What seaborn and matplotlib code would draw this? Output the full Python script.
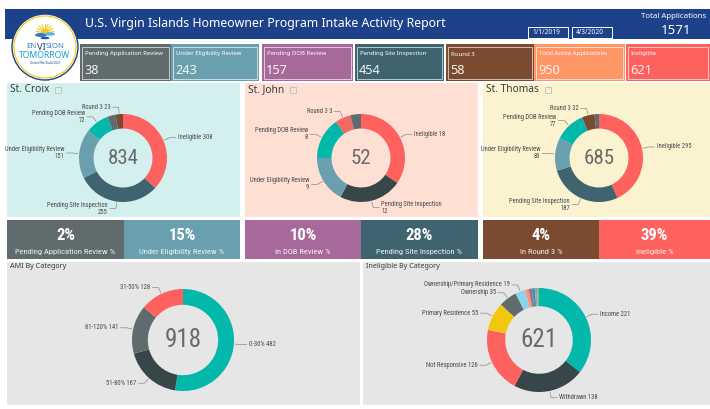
import numpy as np
import matplotlib
matplotlib.use("Agg")
import matplotlib.pyplot as plt
import seaborn as sns
from matplotlib import font_manager
from matplotlib.font_manager import FontProperties
from matplotlib.patches import Rectangle, Circle, Wedge, Ellipse

# ---------------- data ----------------
title = "U.S. Virgin Islands Homeowner Program Intake Activity Report"
date_from = "1/1/2019"
date_to = "4/3/2020"
total_label = "Total Applications"
total_applications = 1571

kpi_labels = ["Pending Application Review", "Under Eligibility Review", "Pending DOB Review",
              "Pending Site Inspection", "Round 3", "Total Active Applications", "Ineligible"]
kpi_values = [38, 243, 157, 454, 58, 950, 621]

island_names = ["St. Croix", "St. John", "St. Thomas"]
island_categories = ["Ineligible", "Pending Site Inspection", "Under Eligibility Review",
                     "Pending DOB Review", "Pending Application Review", "Round 3"]
st_croix_values = [308, 255, 151, 72, 25, 23]
st_john_values = [18, 12, 9, 8, 2, 3]
st_thomas_values = [295, 187, 83, 77, 11, 32]

pct_labels = ["Pending Application Review %", "Under Eligibility Review %", "In DOB Review %",
              "Pending Site Inspection %", "In Round 3 %", "Ineligible %"]
pct_values = [2, 15, 10, 28, 4, 39]

ami_title = "AMI By Category"
ami_categories = ["0-30%", "51-80%", "81-120%", "31-50%"]
ami_values = [482, 167, 141, 128]

inel_title = "Ineligible By Category"
inel_categories = ["Income", "Withdrawn", "Not Responsive", "Primary Residence", "Ownership",
                   "Ownership/Primary Residence", "", "", "", "", ""]
inel_values = [221, 138, 126, 55, 35, 19, 7, 6, 6, 4, 4]

# ---------------- style ----------------
sns.set_theme(style="white")
ttf = font_manager.fontManager.ttflist
names = {f.name for f in ttf}
UI = "Noto Sans" if "Noto Sans" in names else "DejaVu Sans"
plt.rcParams["font.family"] = [UI, "DejaVu Sans"]


def find_condensed(bold=False):
    prefs = ["Liberation Sans Narrow", "Roboto Condensed", "Noto Sans Condensed", "Open Sans Condensed",
             "DejaVu Sans Condensed", "Noto Sans", "DejaVu Sans"]
    cands = []
    for f in ttf:
        st = str(f.stretch).lower()
        nm = f.name
        is_cond = ("condensed" in st) or ("narrow" in nm.lower()) or ("condensed" in nm.lower()) \
            or ("condensed" in f.fname.lower()) or ("narrow" in f.fname.lower())
        if not is_cond or "semi" in st or "extra" in st or "ultra" in st:
            continue
        if "italic" in f.fname.lower() or f.style != "normal":
            continue
        w = f.weight if isinstance(f.weight, int) else (700 if "bold" in str(f.weight) else 400)
        if bold and w < 600:
            continue
        if not bold and not (350 <= w <= 450):
            continue
        rank = next((i for i, p in enumerate(prefs) if nm.startswith(p)), len(prefs))
        cands.append((rank, f.fname))
    if cands:
        cands.sort()
        return FontProperties(fname=cands[0][1])
    return FontProperties(family=["Roboto", "DejaVu Sans"], weight="bold" if bold else "normal")


FP_N = find_condensed(False)
FP_B = find_condensed(True)

W, H = 710, 409
fig = plt.figure(figsize=(W / 100, H / 100), dpi=100)
ax = fig.add_axes([0, 0, 1, 1])
ax.set_xlim(0, W)
ax.set_ylim(0, H)
ax.set_axis_off()


def Y(y):
    return H - y


def T(x, y, s, fp=None, size=None, **kw):
    kw.setdefault("zorder", 5)
    if fp is not None:
        p = fp.copy()
        p.set_size(size)
        return ax.text(x, Y(y), s, fontproperties=p, **kw)
    return ax.text(x, Y(y), s, fontsize=size, **kw)


def rect(x0, y0, x1, y1, color, z=0):
    ax.add_patch(Rectangle((x0, Y(y1)), x1 - x0, y1 - y0, facecolor=color, edgecolor="none", zorder=z))


def outline(x0, y0, x1, y1, color, lw=0.6, z=3):
    ax.add_patch(Rectangle((x0, Y(y1)), x1 - x0, y1 - y0, facecolor="none", edgecolor=color,
                           linewidth=lw, zorder=z))


# colors
BLUE = "#1D4289"
C_GRAY = "#5F6B6D"
C_UNDER = "#6A9FB0"
C_DOB = "#A66999"
C_SITE = "#3F6470"
C_R3 = "#7A4A31"
C_ORANGE = "#FE9666"
C_RED = "#FD625E"
C_TEAL = "#01B8AA"
C_DARK = "#374649"

# ---------------- header ----------------
rect(5, 9, 710, 39, BLUE, z=1)
T(85, 23, title, size=8.9, color="white", va="center", ha="left")
for (x0, x1, t) in [(528, 568, date_from), (572, 612, date_to)]:
    outline(x0, 27, x1, 38, "white", lw=0.7, z=4)
    T(x0 + 4, 33, t, size=4.8, color="white", va="center", ha="left")
T(641, 16, total_label, size=5.7, color="white", va="center", ha="left")
T(676, 31, f"{total_applications}", size=9.5, color="white", fontweight="bold", va="center", ha="center")

# ---------------- KPI cards ----------------
kpi_colors = [C_GRAY, C_UNDER, C_DOB, C_SITE, C_R3, C_ORANGE, C_RED]
kpi_x = [(80, 171), (171, 259), (262, 353), (355, 444), (446, 534), (534, 625), (626, 710)]
for (x0, x1), c, lab, v in zip(kpi_x, kpi_colors, kpi_labels, kpi_values):
    rect(x0, 44, x1, 81, c, z=1)
    outline(x0 + 2, 47, x1 - 2, 79, (1, 1, 1, 0.75), lw=0.6, z=3)
    T(x0 + 5, 54, lab, size=4.3, color="white", va="center", ha="left")
    T(x0 + 4, 71, f"{v}", size=9.2, color=(1, 1, 1, 0.92), va="center", ha="left")

# ---------------- logo ----------------
LX, LY = 45, 47
ax.add_patch(Circle((LX, Y(LY)), 33, facecolor="white", edgecolor="#1D4289", linewidth=1.0, zorder=6))
ax.add_patch(Circle((LX, Y(LY)), 31, facecolor="none", edgecolor="#F2C80F", linewidth=0.8, zorder=6))
for a in np.linspace(10, 170, 9):
    r = np.deg2rad(a)
    ax.plot([LX + 4 * np.cos(r), LX + 9 * np.cos(r)], [Y(33) + 4 * np.sin(r), Y(33) + 9 * np.sin(r)],
            color="#F5C518", lw=0.8, zorder=7)
ax.add_patch(Wedge((LX, Y(33)), 4, 0, 180, facecolor="#F5C518", edgecolor="none", zorder=7))
ax.add_patch(Ellipse((LX - 4, Y(35)), 12, 4, facecolor="#2E7FC1", edgecolor="none", zorder=8))
ax.add_patch(Ellipse((LX + 5, Y(34)), 10, 3.5, facecolor="#5AB4E5", edgecolor="none", zorder=8))
ax.add_patch(Ellipse((LX, Y(38)), 9, 2.5, facecolor="#1D5AA0", edgecolor="none", zorder=8))
T(LX, 56, "TOMORROW", size=6.2, color="#1AA0D0", fontweight="bold", ha="center", va="center", zorder=9)
T(LX, 63, "United We Build 2021", size=2.2, color="#1D4289", ha="center", va="center", zorder=9)

# ---------------- island panels ----------------
panel_x = [(7, 240), (245, 478), (483, 710)]
panel_bg = ["#D3F0EF", "#FDDFD4", "#FBF3D0"]
title_texts = []
for (x0, x1), bg, nm in zip(panel_x, panel_bg, island_names):
    rect(x0, 83, x1, 217, bg, z=0)
    title_texts.append(T(x0 + 3, 90, nm, size=7.3, color="#3A3A3A", fontweight="bold",
                         ha="left", va="center"))

# logo word "ENVISION" built from pieces, measured so they sit side by side
logo_parts = [("EN", 5.6, "normal", "#2E7FC1"), ("VI", 6.8, "bold", "#1D4289"),
              ("SION", 5.6, "normal", "#2E7FC1")]
fig.canvas.draw()
renderer = fig.canvas.get_renderer()
part_texts = [T(0, 47, s, size=sz, fontweight=wt, color=col, ha="left", va="center", zorder=9)
              for s, sz, wt, col in logo_parts]
widths = [t.get_window_extent(renderer).width for t in part_texts]
xcur = LX - sum(widths) / 2
for t, w in zip(part_texts, widths):
    t.set_x(xcur)
    xcur += w + 0.3

for txt in title_texts:
    bb = txt.get_window_extent(renderer)
    outline(bb.x1 + 6, 87, bb.x1 + 12, 93, "#BDBDBD", lw=0.6, z=5)


def donut(cx, cy, R, frac, values, colors, labels, center_text, two_line=False,
          fs_lab=4.4, fs_center=14, lab_color="#4A4A4A"):
    ax.pie(values, colors=colors, startangle=90, counterclock=False, radius=R,
           center=(cx, Y(cy)), wedgeprops=dict(width=R * frac, linewidth=0), frame=True)
    total = float(sum(values))
    cum = 0.0
    for v, (name, lab) in zip(values, labels):
        mid = (cum + v / 2.0) / total * 360.0
        cum += v
        if not name:
            continue
        phi = np.deg2rad(90 - mid)
        c, s = np.cos(phi), np.sin(phi)
        p0 = (cx + (R + 1) * c, Y(cy) + (R + 1) * s)
        p1 = (cx + (R + 7) * c, Y(cy) + (R + 7) * s)
        side = 1 if c >= 0 else -1
        p2 = (p1[0] + side * 6, p1[1])
        ax.plot([p0[0], p1[0], p2[0]], [p0[1], p1[1], p2[1]], color="#8A8A8A", lw=0.5, zorder=4)
        txt = f"{name}\n{lab}" if (two_line and len(name) > 12) else f"{name} {lab}"
        T(p2[0] + side * 2, H - p2[1], txt, fp=FP_N, size=fs_lab, color=lab_color,
          ha="left" if side > 0 else "right", va="center",
          multialignment="left" if side > 0 else "right", linespacing=1.0)
    T(cx, cy, center_text, fp=FP_N, size=fs_center, color="#6A6A6A", ha="center", va="center")


island_values = [st_croix_values, st_john_values, st_thomas_values]
island_colors = [
    {"Ineligible": C_RED, "Pending Site Inspection": C_SITE, "Under Eligibility Review": C_UNDER,
     "Pending DOB Review": C_TEAL, "Pending Application Review": C_GRAY, "Round 3": C_R3},
    {"Ineligible": C_RED, "Pending Site Inspection": C_DARK, "Under Eligibility Review": C_UNDER,
     "Pending DOB Review": C_TEAL, "Pending Application Review": C_GRAY, "Round 3": "#F06A62"},
    {"Ineligible": C_RED, "Pending Site Inspection": C_SITE, "Under Eligibility Review": C_UNDER,
     "Pending DOB Review": C_TEAL, "Pending Application Review": C_GRAY, "Round 3": C_R3},
]
island_centers = [(123, 158), (361, 158), (599, 158)]
for vals, cmap, (cx, cy) in zip(island_values, island_colors, island_centers):
    order = sorted(range(len(vals)), key=lambda i: -vals[i])
    v_sorted = [vals[i] for i in order]
    cats = [island_categories[i] for i in order]
    cols = [cmap[c] for c in cats]
    labs = [("" if c == "Pending Application Review" else c, str(v)) for c, v in zip(cats, v_sorted)]
    donut(cx, cy, 44, 0.33, v_sorted, cols, labs, str(sum(vals)), two_line=True, fs_lab=4.7,
          fs_center=15)

# ---------------- percent cards ----------------
pct_colors = [C_GRAY, C_UNDER, C_DOB, C_SITE, C_R3, C_RED]
pct_x = [(7, 124), (124, 240), (245, 361), (361, 478), (483, 599), (599, 710)]
for (x0, x1), c, lab, v in zip(pct_x, pct_colors, pct_labels, pct_values):
    rect(x0, 220, x1, 259, c, z=0)
    xm = (x0 + x1) / 2
    T(xm, 235, f"{v}%", fp=FP_B, size=12, color="white", ha="center", va="center")
    T(xm, 252, lab, fp=FP_N, size=6.1, color=(1, 1, 1, 0.9), ha="center", va="center")

# ---------------- bottom panels ----------------
rect(7, 262, 360, 405, "#E6E6E6", z=0)
rect(363, 262, 710, 405, "#E6E6E6", z=0)
T(10, 266, ami_title, size=5.2, color="#3A3A3A", fontweight="bold", ha="left", va="center")
T(366, 266, inel_title, size=5.2, color="#3A3A3A", fontweight="bold", ha="left", va="center")

ami_colors = [C_TEAL, C_DARK, C_GRAY, C_RED]
donut(183, 340, 51, 0.31, ami_values, ami_colors,
      [(c, str(v)) for c, v in zip(ami_categories, ami_values)], str(sum(ami_values)),
      fs_lab=4.8, fs_center=18)

inel_colors = [C_TEAL, C_DARK, C_RED, "#F2C80F", C_GRAY, "#8AD4EB", C_ORANGE, C_DOB, "#3599B8",
               "#A0A0A0", "#7FBF7F"]
donut(539, 340, 52, 0.35, inel_values, inel_colors,
      [(c, str(v)) for c, v in zip(inel_categories, inel_values)], str(sum(inel_values)),
      fs_lab=4.8, fs_center=18)

ax.set_xlim(0, W)
ax.set_ylim(0, H)
ax.set_aspect("auto")
ax.set_axis_off()
fig.savefig("out.png", dpi=100, facecolor="white")
